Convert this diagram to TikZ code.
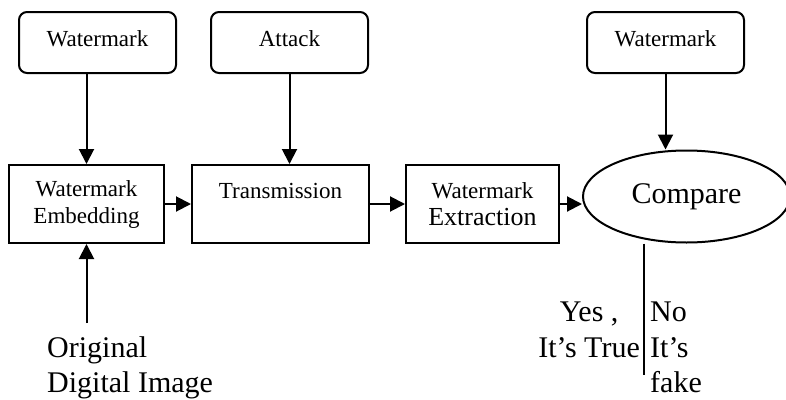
\documentclass[tikz,border=0pt]{standalone}
\usepackage{fontspec}
\setmainfont{Liberation Serif}
\usetikzlibrary{positioning,shapes.geometric,arrows.meta}
\tikzset{
    block/.style = {
        draw,
        line width=2pt,
        minimum height=78pt,
        inner sep=0pt,
        align=center,
        font=\fontsize{23}{27}\selectfont,
        },
    source/.style = {
        draw,
        line width=2pt,
        rounded corners=8pt,
        minimum width=157pt,
        minimum height=61pt,
        text depth=8pt,
        font=\fontsize{23}{27}\selectfont,
        },
    decision/.style = {
        draw,
        ellipse,
        line width=2pt,
        minimum width=207pt,
        minimum height=92pt,
        font=\fontsize{30}{35.5}\selectfont,
        },
    outcome/.style = {
        inner sep=0pt,
        font=\fontsize{30}{35.5}\selectfont,
        },
    flow/.style = {
        line width=2pt,
        -{Triangle[length=15pt,width=15pt]},
        },
    split/.style = {
        line width=2pt,
        },
}

\begin{document}
\begin{tikzpicture}[x=1pt, y=-1pt]
            \useasboundingbox (0,0) rectangle (786,399);

            \node[block, minimum width=155pt] (emb) at (86.5,204) {Watermark\\Embedding};
            \node[block, minimum width=177pt, right=26pt of emb] (trans) {Transmission\\~};
            \node[block, minimum width=153pt, right=35pt of trans] (extr) {Watermark\\{\fontsize{26}{30}\selectfont Extraction}};
            \node[decision, right=22pt of extr, yshift=7.5pt] (cmp) {Compare};

            \node[source] (wm1) at (97.5,42.5) {Watermark};
            \node[source, right=33pt of wm1] (att) {Attack};
            \node[source] (wm3) at (665.5,42.5) {Watermark};

            \node[outcome, anchor=north west, align=left] (orig) at (47,336) {Original\\Digital Image};
            \node[outcome, anchor=north east, align=center] (yes) at (640,302) {Yes ,\\It’s True};
            \node[outcome, anchor=north west, align=left] (no) at (650,302) {No\\It’s\\fake};
            \coordinate (end) at (644,375);

            \draw[flow] (wm1.south -| emb.north) -- (emb.north);
            \draw[flow] (att.south) -- (att.south |- trans.north);
            \draw[flow] (wm3.south) -- (wm3.south |- cmp.north);
            \draw[flow] ([yshift=13pt]orig.north -| emb.south) -- (emb.south);
            \draw[flow] (emb) -- (trans);
            \draw[flow] (trans) -- (extr);
            \draw[flow] (extr.east) -- (cmp.west |- extr.east);
            \draw[split] (end |- cmp.south) -- (end);
        \end{tikzpicture}
\end{document}
